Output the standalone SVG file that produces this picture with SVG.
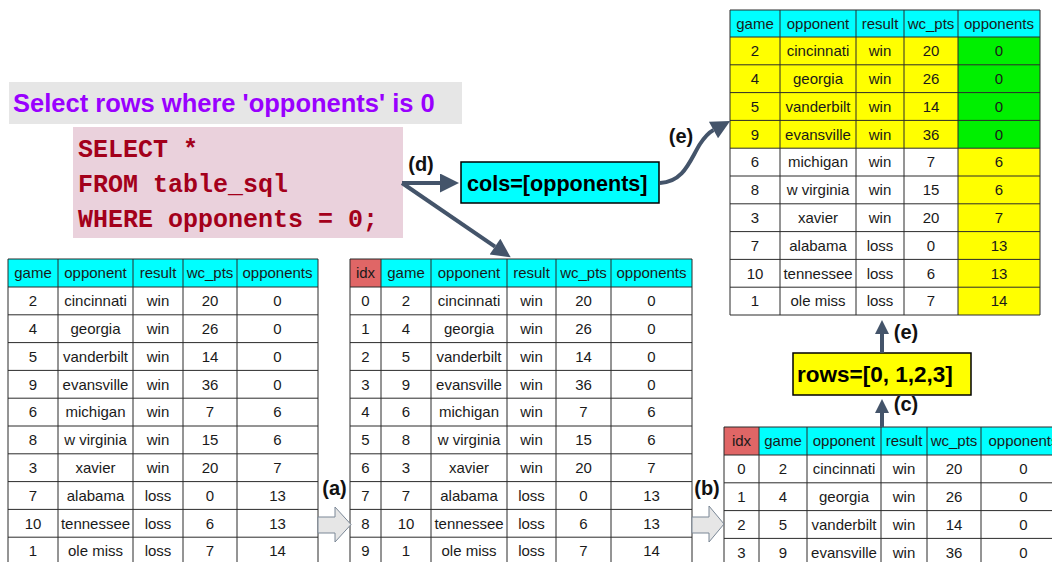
<svg xmlns="http://www.w3.org/2000/svg" width="1052" height="562" viewBox="0 0 1052 562">
<style>
.t{font-family:"Liberation Sans",Arial,sans-serif;font-size:15px;fill:#1a1a1a;text-anchor:middle}
.grid{stroke:#2b2b2b;stroke-width:1;fill:none}
.hdr{fill:#00FFFF}
.idx{fill:#E06666}
.yel{fill:#FFFF00}
.grn{fill:#00F000}
.lbl{font-family:"Liberation Sans",Arial,sans-serif;font-weight:bold;font-size:20px;fill:#111;text-anchor:middle}
.sql{font-family:"Liberation Mono","Courier New",monospace;font-weight:bold;font-size:25px;fill:#A3001B}
.conn{stroke:#44546A;stroke-width:4;fill:none}
.blk{fill:#E6E6E6;stroke:#7A8796;stroke-width:1}
.box{font-family:"Liberation Sans",Arial,sans-serif;font-weight:bold;fill:#000}
</style>
<defs>
<marker id="ahL" viewBox="0 0 10 10" refX="0" refY="5" markerWidth="21" markerHeight="19" markerUnits="userSpaceOnUse" orient="auto"><path d="M0,0 L10,5 L0,10 z" fill="#44546A"/></marker>
<marker id="ahS" viewBox="0 0 10 10" refX="0" refY="5" markerWidth="18" markerHeight="14" markerUnits="userSpaceOnUse" orient="auto"><path d="M0,0 L10,5 L0,10 z" fill="#44546A"/></marker>
</defs>
<rect width="1052" height="562" fill="#fff"/>

<g id="title">
<rect x="9" y="82" width="453" height="42" fill="#E6E6E6"/>
<text x="13" y="112" font-family="Liberation Sans,Arial,sans-serif" font-weight="bold" font-size="25.5" fill="#9900FF">Select rows where 'opponents' is 0</text>
</g>

<g id="sql">
<rect x="73" y="127" width="330" height="111" fill="#EAD1DC"/>
<text class="sql" x="78" y="157" xml:space="preserve">SELECT *</text>
<text class="sql" x="78" y="192" xml:space="preserve">FROM table_sql</text>
<text class="sql" x="78" y="227" xml:space="preserve">WHERE opponents = 0;</text>
</g>

<g id="cols-box">
<rect x="461" y="162" width="198" height="41" fill="#00FFFF" stroke="#000" stroke-width="1.5"/>
<text class="box" x="467" y="191" font-size="21.6">cols=[opponents]</text>
</g>

<g id="rows-box">
<rect x="793" y="353" width="178" height="42" fill="#FFFF00" stroke="#000" stroke-width="1.5"/>
<text class="box" x="797" y="382" font-size="22.5">rows=[0, 1,2,3]</text>
</g>

<g id="table-left">
<rect class="hdr" x="8" y="259" width="310" height="28"/>
<path class="grid" d="M8,259V565M58,259V565M133,259V565M183,259V565M237,259V565M318,259V565
M8,259H318M8,287H318M8,314.8H318M8,342.6H318M8,370.4H318M8,398.2H318M8,426H318M8,453.8H318M8,481.6H318M8,509.4H318M8,537.2H318M8,565H318"/>
<text class="t" y="278"><tspan x="33">game</tspan><tspan x="95.5">opponent</tspan><tspan x="158">result</tspan><tspan x="210">wc_pts</tspan><tspan x="277.5">opponents</tspan></text>
<text class="t" y="306"><tspan x="33">2</tspan><tspan x="95.5">cincinnati</tspan><tspan x="158">win</tspan><tspan x="210">20</tspan><tspan x="277.5">0</tspan></text>
<text class="t" y="334"><tspan x="33">4</tspan><tspan x="95.5">georgia</tspan><tspan x="158">win</tspan><tspan x="210">26</tspan><tspan x="277.5">0</tspan></text>
<text class="t" y="362"><tspan x="33">5</tspan><tspan x="95.5">vanderbilt</tspan><tspan x="158">win</tspan><tspan x="210">14</tspan><tspan x="277.5">0</tspan></text>
<text class="t" y="390"><tspan x="33">9</tspan><tspan x="95.5">evansville</tspan><tspan x="158">win</tspan><tspan x="210">36</tspan><tspan x="277.5">0</tspan></text>
<text class="t" y="417"><tspan x="33">6</tspan><tspan x="95.5">michigan</tspan><tspan x="158">win</tspan><tspan x="210">7</tspan><tspan x="277.5">6</tspan></text>
<text class="t" y="445"><tspan x="33">8</tspan><tspan x="95.5">w virginia</tspan><tspan x="158">win</tspan><tspan x="210">15</tspan><tspan x="277.5">6</tspan></text>
<text class="t" y="473"><tspan x="33">3</tspan><tspan x="95.5">xavier</tspan><tspan x="158">win</tspan><tspan x="210">20</tspan><tspan x="277.5">7</tspan></text>
<text class="t" y="501"><tspan x="33">7</tspan><tspan x="95.5">alabama</tspan><tspan x="158">loss</tspan><tspan x="210">0</tspan><tspan x="277.5">13</tspan></text>
<text class="t" y="529"><tspan x="33">10</tspan><tspan x="95.5">tennessee</tspan><tspan x="158">loss</tspan><tspan x="210">6</tspan><tspan x="277.5">13</tspan></text>
<text class="t" y="556"><tspan x="33">1</tspan><tspan x="95.5">ole miss</tspan><tspan x="158">loss</tspan><tspan x="210">7</tspan><tspan x="277.5">14</tspan></text>
</g>

<g id="table-mid">
<rect class="hdr" x="350" y="259" width="342" height="28"/>
<rect class="idx" x="350" y="259" width="31" height="28"/>
<path class="grid" d="M350,259V565M381,259V565M431,259V565M507,259V565M556,259V565M611,259V565M692,259V565
M350,259H692M350,287H692M350,314.8H692M350,342.6H692M350,370.4H692M350,398.2H692M350,426H692M350,453.8H692M350,481.6H692M350,509.4H692M350,537.2H692M350,565H692"/>
<text class="t" y="278"><tspan x="365.5">idx</tspan><tspan x="406">game</tspan><tspan x="469">opponent</tspan><tspan x="531.5">result</tspan><tspan x="583.5">wc_pts</tspan><tspan x="651.5">opponents</tspan></text>
<text class="t" y="306"><tspan x="365.5">0</tspan><tspan x="406">2</tspan><tspan x="469">cincinnati</tspan><tspan x="531.5">win</tspan><tspan x="583.5">20</tspan><tspan x="651.5">0</tspan></text>
<text class="t" y="334"><tspan x="365.5">1</tspan><tspan x="406">4</tspan><tspan x="469">georgia</tspan><tspan x="531.5">win</tspan><tspan x="583.5">26</tspan><tspan x="651.5">0</tspan></text>
<text class="t" y="362"><tspan x="365.5">2</tspan><tspan x="406">5</tspan><tspan x="469">vanderbilt</tspan><tspan x="531.5">win</tspan><tspan x="583.5">14</tspan><tspan x="651.5">0</tspan></text>
<text class="t" y="390"><tspan x="365.5">3</tspan><tspan x="406">9</tspan><tspan x="469">evansville</tspan><tspan x="531.5">win</tspan><tspan x="583.5">36</tspan><tspan x="651.5">0</tspan></text>
<text class="t" y="417"><tspan x="365.5">4</tspan><tspan x="406">6</tspan><tspan x="469">michigan</tspan><tspan x="531.5">win</tspan><tspan x="583.5">7</tspan><tspan x="651.5">6</tspan></text>
<text class="t" y="445"><tspan x="365.5">5</tspan><tspan x="406">8</tspan><tspan x="469">w virginia</tspan><tspan x="531.5">win</tspan><tspan x="583.5">15</tspan><tspan x="651.5">6</tspan></text>
<text class="t" y="473"><tspan x="365.5">6</tspan><tspan x="406">3</tspan><tspan x="469">xavier</tspan><tspan x="531.5">win</tspan><tspan x="583.5">20</tspan><tspan x="651.5">7</tspan></text>
<text class="t" y="501"><tspan x="365.5">7</tspan><tspan x="406">7</tspan><tspan x="469">alabama</tspan><tspan x="531.5">loss</tspan><tspan x="583.5">0</tspan><tspan x="651.5">13</tspan></text>
<text class="t" y="529"><tspan x="365.5">8</tspan><tspan x="406">10</tspan><tspan x="469">tennessee</tspan><tspan x="531.5">loss</tspan><tspan x="583.5">6</tspan><tspan x="651.5">13</tspan></text>
<text class="t" y="556"><tspan x="365.5">9</tspan><tspan x="406">1</tspan><tspan x="469">ole miss</tspan><tspan x="531.5">loss</tspan><tspan x="583.5">7</tspan><tspan x="651.5">14</tspan></text>
</g>

<g id="table-result">
<rect class="hdr" x="730" y="10" width="310" height="27"/>
<rect class="yel" x="730" y="37" width="228" height="111.2"/>
<rect class="grn" x="958" y="37" width="82" height="111.2"/>
<rect class="yel" x="958" y="148.2" width="82" height="166.8"/>
<path class="grid" d="M730,10V315M780,10V315M856,10V315M904,10V315M958,10V315M1040,10V315
M730,10H1040M730,37H1040M730,64.8H1040M730,92.6H1040M730,120.4H1040M730,148.2H1040M730,176H1040M730,203.8H1040M730,231.6H1040M730,259.4H1040M730,287.2H1040M730,315H1040"/>
<text class="t" y="29"><tspan x="755">game</tspan><tspan x="818">opponent</tspan><tspan x="880">result</tspan><tspan x="931">wc_pts</tspan><tspan x="999">opponents</tspan></text>
<text class="t" y="56"><tspan x="755">2</tspan><tspan x="818">cincinnati</tspan><tspan x="880">win</tspan><tspan x="931">20</tspan><tspan x="999">0</tspan></text>
<text class="t" y="84"><tspan x="755">4</tspan><tspan x="818">georgia</tspan><tspan x="880">win</tspan><tspan x="931">26</tspan><tspan x="999">0</tspan></text>
<text class="t" y="112"><tspan x="755">5</tspan><tspan x="818">vanderbilt</tspan><tspan x="880">win</tspan><tspan x="931">14</tspan><tspan x="999">0</tspan></text>
<text class="t" y="140"><tspan x="755">9</tspan><tspan x="818">evansville</tspan><tspan x="880">win</tspan><tspan x="931">36</tspan><tspan x="999">0</tspan></text>
<text class="t" y="167"><tspan x="755">6</tspan><tspan x="818">michigan</tspan><tspan x="880">win</tspan><tspan x="931">7</tspan><tspan x="999">6</tspan></text>
<text class="t" y="195"><tspan x="755">8</tspan><tspan x="818">w virginia</tspan><tspan x="880">win</tspan><tspan x="931">15</tspan><tspan x="999">6</tspan></text>
<text class="t" y="223"><tspan x="755">3</tspan><tspan x="818">xavier</tspan><tspan x="880">win</tspan><tspan x="931">20</tspan><tspan x="999">7</tspan></text>
<text class="t" y="251"><tspan x="755">7</tspan><tspan x="818">alabama</tspan><tspan x="880">loss</tspan><tspan x="931">0</tspan><tspan x="999">13</tspan></text>
<text class="t" y="279"><tspan x="755">10</tspan><tspan x="818">tennessee</tspan><tspan x="880">loss</tspan><tspan x="931">6</tspan><tspan x="999">13</tspan></text>
<text class="t" y="306"><tspan x="755">1</tspan><tspan x="818">ole miss</tspan><tspan x="880">loss</tspan><tspan x="931">7</tspan><tspan x="999">14</tspan></text>
</g>

<g id="table-filtered">
<rect class="hdr" x="724" y="427" width="342" height="28"/>
<rect class="idx" x="724" y="427" width="35" height="28"/>
<path class="grid" d="M724,427V566M759,427V566M807,427V566M881,427V566M927,427V566M981,427V566
M724,427H1066M724,455H1066M724,482.8H1066M724,510.6H1066M724,538.4H1066"/>
<text class="t" y="446"><tspan x="741.5">idx</tspan><tspan x="783">game</tspan><tspan x="844">opponent</tspan><tspan x="904">result</tspan><tspan x="954">wc_pts</tspan><tspan x="1023.5">opponents</tspan></text>
<text class="t" y="474"><tspan x="741.5">0</tspan><tspan x="783">2</tspan><tspan x="844">cincinnati</tspan><tspan x="904">win</tspan><tspan x="954">20</tspan><tspan x="1023.5">0</tspan></text>
<text class="t" y="502"><tspan x="741.5">1</tspan><tspan x="783">4</tspan><tspan x="844">georgia</tspan><tspan x="904">win</tspan><tspan x="954">26</tspan><tspan x="1023.5">0</tspan></text>
<text class="t" y="530"><tspan x="741.5">2</tspan><tspan x="783">5</tspan><tspan x="844">vanderbilt</tspan><tspan x="904">win</tspan><tspan x="954">14</tspan><tspan x="1023.5">0</tspan></text>
<text class="t" y="558"><tspan x="741.5">3</tspan><tspan x="783">9</tspan><tspan x="844">evansville</tspan><tspan x="904">win</tspan><tspan x="954">36</tspan><tspan x="1023.5">0</tspan></text>
</g>

<g id="connectors">
<polygon class="blk" points="318,517 335,517 335,507 351,524.5 335,542 335,533 318,533"/>
<polygon class="blk" points="692,517 709,517 709,506 724,524 709,542 709,533 692,533"/>
<path class="conn" d="M402,183 H440" marker-end="url(#ahL)"/>
<path class="conn" d="M402,183 L495,246.6" marker-end="url(#ahL)"/>
<path class="conn" d="M660,183 C684,182 690,160 700,144 C704,138 708,133 713.5,130" marker-end="url(#ahL)"/>
<path class="conn" d="M882,353 V334" marker-end="url(#ahS)"/>
<path class="conn" d="M882,427 V413" marker-end="url(#ahS)"/>
<text class="lbl" x="334.5" y="495">(a)</text>
<text class="lbl" x="707" y="495">(b)</text>
<text class="lbl" x="906" y="411">(c)</text>
<text class="lbl" x="421" y="171">(d)</text>
<text class="lbl" x="681" y="143">(e)</text>
<text class="lbl" x="906" y="339">(e)</text>
</g>
</svg>
